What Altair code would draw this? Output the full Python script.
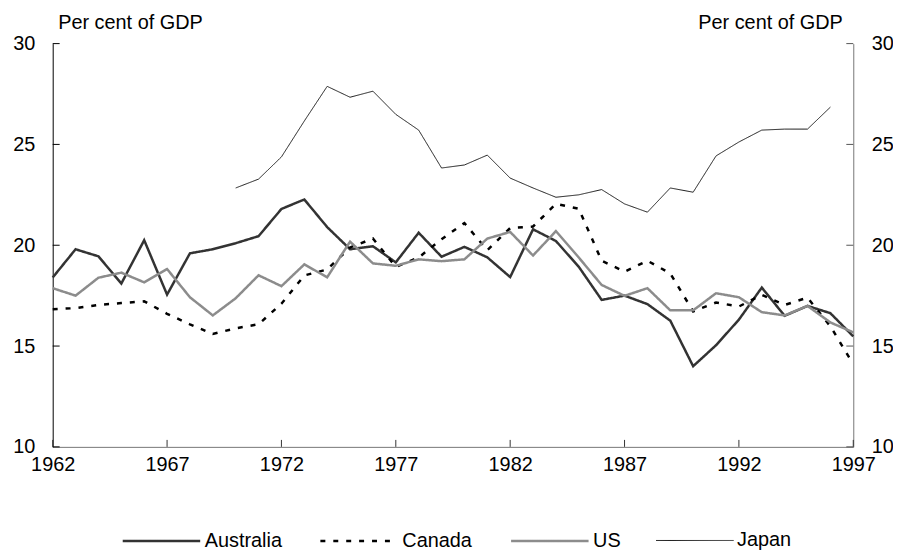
import altair as alt
import pandas as pd

years = list(range(1962, 1998))
australia = [18.4, 19.8, 19.45, 18.1, 20.25, 17.55, 19.6, 19.8, 20.1, 20.45, 21.8, 22.27,
             20.9, 19.8, 19.95, 19.15, 20.62, 19.43, 19.92, 19.4, 18.42, 20.79, 20.21, 18.93,
             17.29, 17.5, 17.08, 16.26, 14.0, 15.04, 16.31, 17.9, 16.5, 16.99, 16.63, 15.48]
canada = [16.83, 16.88, 17.04, 17.13, 17.22, 16.6, 16.08, 15.6, 15.88, 16.08, 17.1, 18.5,
          18.8, 19.89, 20.33, 18.93, 19.39, 20.3, 21.1, 19.75, 20.85, 20.93, 22.05, 21.81,
          19.23, 18.69, 19.23, 18.6, 16.72, 17.16, 16.96, 17.54, 17.04, 17.4, 15.98, 14.1]
us = [17.87, 17.5, 18.39, 18.64, 18.16, 18.82, 17.42, 16.52, 17.37, 18.51, 17.97, 19.05,
      18.41, 20.18, 19.1, 18.98, 19.3, 19.21, 19.3, 20.33, 20.66, 19.49, 20.7, 19.39,
      18.03, 17.49, 17.87, 16.77, 16.77, 17.62, 17.42, 16.68, 16.52, 16.99, 16.17, 15.68]
japan_years = list(range(1970, 1997))
japan = [22.84, 23.28, 24.38, 26.16, 27.88, 27.34, 27.64, 26.49, 25.71, 23.83, 23.98, 24.47,
         23.33, 22.84, 22.38, 22.5, 22.76, 22.05, 21.64, 22.84, 22.63, 24.43, 25.12, 25.71,
         25.76, 25.76, 26.85]

series_names = ["Australia", "Canada", "US", "Japan"]
series_colors = ["#333333", "#000000", "#8c8c8c", "#1a1a1a"]
series_dash = [[1, 0], [5, 8], [1, 0], [1, 0]]
series_width = [2.5, 2.5, 2.5, 1.0]
y_ticks = [10, 15, 20, 25, 30]
x_ticks = [1962, 1967, 1972, 1977, 1982, 1987, 1992, 1997]
axis_title = "Per cent of GDP"

rows = []
for name, xs, vs in [("Australia", years, australia), ("Canada", years, canada),
                     ("US", years, us), ("Japan", japan_years, japan)]:
    for x, v in zip(xs, vs):
        rows.append({"year": x, "value": v, "series": name})
df = pd.DataFrame(rows)
ytick_df = pd.DataFrame({"tick": y_ticks})
xtick_df = pd.DataFrame({"tick": x_ticks})

W, H = 806, 406
FONT = "Liberation Sans"
FS = 20

x_scale = alt.Scale(domain=[1962, 1997], nice=False, zero=False)
y_scale = alt.Scale(domain=[10, 30], nice=False, zero=False)

x_axis = alt.Axis(values=x_ticks, format="d", ticks=False, grid=False, labelPadding=8,
                  domainColor="#777777", domainWidth=1, labelFontSize=FS, labelFont=FONT,
                  labelColor="black", title=None, labelFlush=False)

legend = alt.Legend(title=None, orient="none", legendX=69, legendY=460, direction="horizontal",
                    symbolType="stroke", symbolSize=6084, labelFontSize=FS, labelFont=FONT,
                    labelColor="black", labelOffset=3, columnPadding=33)

lines = alt.Chart(df).mark_line().encode(
    x=alt.X("year:Q", scale=x_scale, axis=x_axis),
    y=alt.Y("value:Q", scale=y_scale,
            axis=alt.Axis(orient="left", values=y_ticks, ticks=False, grid=False, labelPadding=18,
                          domainColor="black", labelFontSize=FS, labelFont=FONT, labelColor="black",
                          title=axis_title, titleAngle=0, titleAlign="left", titleX=5, titleY=-15,
                          titleBaseline="alphabetic", titleFontWeight="normal", titleFontSize=FS,
                          titleFont=FONT, titleColor="black")),
    color=alt.Color("series:N", scale=alt.Scale(domain=series_names, range=series_colors), legend=legend),
    strokeDash=alt.StrokeDash("series:N", scale=alt.Scale(domain=series_names, range=series_dash), legend=legend),
    strokeWidth=alt.StrokeWidth("series:N", scale=alt.Scale(type="ordinal", domain=series_names, range=series_width), legend=legend),
)

left_ticks = alt.Chart(ytick_df).mark_rule(color="black", strokeWidth=1).encode(
    y=alt.Y("tick:Q", scale=y_scale, axis=None),
    x=alt.value(0), x2=alt.value(7),
)

right_ticks = alt.Chart(ytick_df).mark_rule(color="#555555", strokeWidth=1).encode(
    y=alt.Y("tick:Q", scale=y_scale,
            axis=alt.Axis(orient="right", values=y_ticks, ticks=False, grid=False, labelPadding=18,
                          domainColor="#777777", labelFontSize=FS, labelFont=FONT, labelColor="black",
                          title=axis_title, titleAngle=0, titleAlign="right", titleX=-11, titleY=-15,
                          titleBaseline="alphabetic", titleFontWeight="normal", titleFontSize=FS,
                          titleFont=FONT, titleColor="black")),
    x=alt.value(W - 7), x2=alt.value(W),
)

bottom_ticks = alt.Chart(xtick_df).mark_rule(color="#333333", strokeWidth=1).encode(
    x=alt.X("tick:Q", scale=x_scale, axis=x_axis),
    y=alt.value(H - 7), y2=alt.value(H),
)

chart = alt.layer(lines, left_ticks, bottom_ticks, right_ticks).resolve_axis(
    y="independent"
).properties(
    width=W, height=H,
    autosize=alt.AutoSizeParams(type="none"),
    padding={"left": 45, "top": 34, "right": 40, "bottom": 104},
    background="white",
).configure_view(strokeWidth=0)

chart.save("out.html", embed_options={"renderer": "svg", "actions": False})
